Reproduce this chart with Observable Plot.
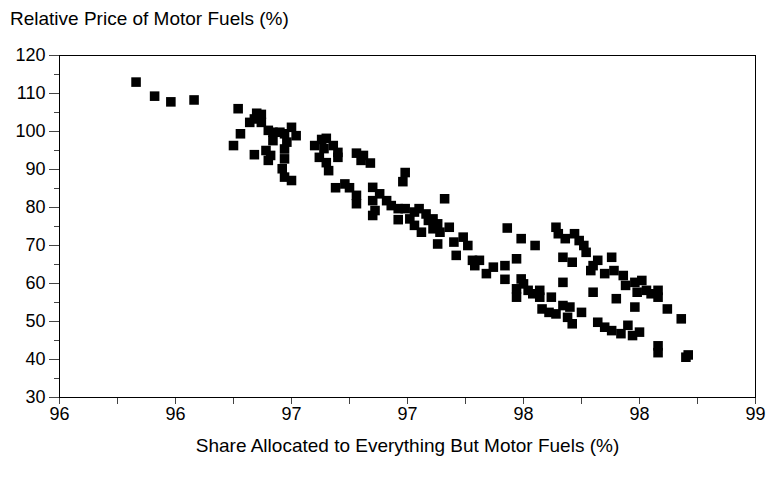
<!DOCTYPE html>
<html><head><meta charset="utf-8">
<script src="https://cdn.jsdelivr.net/npm/d3@7"></script>
<script src="https://cdn.jsdelivr.net/npm/@observablehq/plot@0.6"></script>
<style>
body{margin:0;background:#fff;font-family:"Liberation Sans",Arial,sans-serif;}
#wrap{position:relative;width:774px;height:479px;}
#title{position:absolute;left:10px;top:9px;font-size:19px;line-height:19px;color:#000;white-space:nowrap;}
</style></head><body>
<div id="wrap"><div id="title">Relative Price of Motor Fuels (%)</div><div id="chart"></div></div>
<script>
const titleText = "Relative Price of Motor Fuels (%)";
const xLabelText = "Share Allocated to Everything But Motor Fuels (%)";

const shareEverythingElse = [
  96.08, 96.16, 96.23, 96.33, 96.52, 96.60, 96.62, 96.57, 96.59, 96.62,
  96.53, 96.50, 96.59, 96.65, 96.67, 96.64, 96.66, 96.65, 96.67, 96.75,
  96.77, 96.72, 96.70, 96.73, 96.72, 96.72, 96.71, 96.72, 96.75, 96.85,
  96.88, 96.90, 96.89, 96.93, 96.95, 96.95, 96.87, 96.90, 96.91, 97.03,
  97.06, 97.05, 97.09, 97.24, 97.23, 96.94, 96.98, 97.00, 97.03, 97.03,
  97.10, 97.13, 97.10, 97.10, 97.11, 97.16, 97.18, 97.21, 97.21, 97.24,
  97.41, 97.28, 97.30, 97.26, 97.28, 97.31, 97.33, 97.34, 97.36, 97.36,
  97.38, 97.39, 97.43, 97.38, 97.45, 97.49, 97.51, 97.46, 97.53, 97.56,
  97.54, 97.59, 97.62, 97.68, 97.67, 97.67, 97.74, 97.80, 97.89, 97.90,
  97.93, 97.97, 97.99, 98.01, 98.02, 97.92, 97.96, 97.72, 97.74, 97.75,
  97.72, 97.72, 97.77, 97.79, 97.82, 97.82, 97.87, 97.83, 97.86, 97.89,
  97.92, 97.95, 98.00, 97.94, 97.96, 97.92, 98.04, 98.05, 98.07, 98.05,
  98.07, 98.13, 98.10, 98.14, 98.18, 98.19, 98.23, 98.26, 98.24, 98.28,
  98.30, 98.33, 98.33, 98.15, 98.23, 98.37, 98.43, 98.10, 98.13, 98.17,
  98.20, 98.22, 98.25, 98.33, 98.33, 98.45, 98.46
];
const relativePrice = [
  113.0, 109.3, 107.8, 108.3, 106.0, 104.8, 104.5, 102.4, 103.3, 102.4,
  99.4, 96.3, 93.9, 100.3, 99.8, 95.0, 93.7, 92.4, 97.6, 101.1,
  98.9, 99.4, 99.8, 97.2, 95.4, 92.8, 90.2, 88.0, 87.1, 96.3,
  97.9, 98.2, 95.5, 96.3, 94.5, 93.2, 93.2, 91.8, 89.7, 94.3,
  93.7, 92.4, 91.7, 89.2, 86.8, 85.2, 86.2, 85.2, 83.2, 81.0,
  85.3, 83.6, 81.8, 77.9, 79.2, 81.8, 80.5, 79.7, 76.8, 79.7,
  82.3, 78.8, 79.7, 77.0, 75.3, 73.5, 78.3, 76.6, 77.0, 74.4,
  75.7, 73.5, 74.8, 70.4, 70.9, 72.2, 70.0, 67.4, 66.1, 66.1,
  64.7, 62.6, 64.3, 74.6, 64.7, 61.1, 71.8, 70.0, 74.8, 73.1,
  71.8, 73.1, 71.3, 70.0, 68.2, 66.9, 65.6, 66.5, 61.2, 59.9,
  58.6, 56.4, 58.2, 57.3, 58.2, 56.4, 56.4, 53.3, 52.4, 52.0,
  54.2, 53.8, 52.4, 51.1, 49.4, 60.3, 63.4, 64.7, 66.1, 57.7,
  49.8, 66.9, 62.6, 63.4, 62.1, 59.5, 60.3, 60.8, 57.7, 58.2,
  57.3, 56.4, 58.2, 56.0, 53.8, 53.3, 50.7, 48.5, 47.6, 46.8,
  49.0, 46.3, 47.2, 43.6, 41.8, 40.6, 41.2
];

const xTicks = [95.75, 96, 96.25, 96.5, 96.75, 97, 97.25, 97.5, 97.75, 98, 98.25, 98.5, 98.75];
const xMajorTicks = [95.75, 96.25, 96.75, 97.25, 97.75, 98.25, 98.75];
const xTickLabels = ["96", "96", "97", "97", "98", "98", "99"];
const yMajorTicks = [30, 40, 50, 60, 70, 80, 90, 100, 110, 120];
const yMinorTicks = [35, 45, 55, 65, 75, 85, 95, 105, 115];

const points = shareEverythingElse.map((x, i) => ({x, y: relativePrice[i]}));

const chart = Plot.plot({
  width: 774,
  height: 479,
  marginTop: 55,
  marginBottom: 82,
  marginLeft: 59,
  marginRight: 19,
  style: {fontFamily: "'Liberation Sans', Arial, sans-serif", fontSize: "18px", color: "#000", background: "transparent"},
  x: {domain: [95.75, 98.75]},
  y: {domain: [30, 120]},
  marks: [
    Plot.axisX({
      ticks: xTicks,
      tickSize: 7,
      tickPadding: 3,
      tickFormat: d => { const i = xMajorTicks.indexOf(d); return i >= 0 ? xTickLabels[i] : ""; },
      label: null,
      fontSize: 18,
      stroke: "#444"
    }),
    Plot.axisY({ticks: yMajorTicks, tickSize: 10, tickPadding: 4, label: null, fontSize: 18, stroke: "#444"}),
    Plot.axisY({ticks: yMinorTicks, tickSize: 5, tickFormat: () => "", label: null, stroke: "#444"}),
    Plot.frame({stroke: "#000", strokeWidth: 1}),
    Plot.dot(points, {x: "x", y: "y", symbol: "square", r: 5.4, fill: "#000", stroke: "none"}),
    Plot.text([xLabelText], {frameAnchor: "bottom", dy: 54, fontSize: 19, fill: "#000"})
  ]
});
document.getElementById("chart").appendChild(chart);
document.getElementById("title").textContent = titleText;
</script>
</body></html>
